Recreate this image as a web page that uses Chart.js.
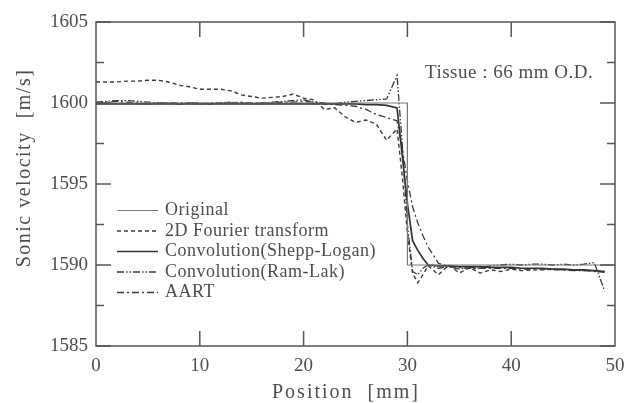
<!DOCTYPE html>
<html>
<head>
<meta charset="utf-8">
<script src="https://cdn.jsdelivr.net/npm/chart.js@4"></script>
<style>
  body { margin: 0; background: #fff; }
</style>
</head>
<body>
<canvas id="sonicChart" width="625" height="403"></canvas>
<script>
const TEXT_COLOR = '#4d4d4d';
const AXIS_COLOR = '#555';
const FONT = '"Liberation Serif", "Times New Roman", serif';

// positions [mm]
const positions = [0, 1, 2, 3, 4, 5, 6, 7, 8, 9, 10, 11, 12, 13, 14, 15, 16, 17, 18, 19,
    20, 21, 22, 23, 24, 25, 26, 27, 28, 29, 29.5, 30, 30.5, 31, 31.5, 32,
    33, 34, 35, 36, 37, 38, 39, 40, 41, 42, 43, 44, 45, 46, 47, 48, 49];

const originalX = [0, 30, 30, 50];
const originalY = [1600, 1600, 1590, 1590];

const fourier = [1601.3, 1601.3, 1601.3, 1601.35, 1601.35, 1601.4, 1601.4, 1601.3, 1601.1, 1601.0,
    1600.85, 1600.85, 1600.85, 1600.75, 1600.5, 1600.4, 1600.3, 1600.35, 1600.4, 1600.55,
    1600.3, 1600.2, 1599.6, 1599.7, 1599.15, 1598.8, 1598.95, 1598.7, 1597.7, 1598.4,
    1595.5, 1592.0, 1589.5, 1588.9, 1589.4, 1589.95,
    1589.4, 1590.0, 1589.5, 1589.85, 1589.5, 1589.7, 1589.6, 1589.75, 1589.65, 1589.7,
    1589.7, 1589.75, 1589.7, 1589.7, 1589.65, 1589.65, 1589.6];

const sheppLogan = [1599.95, 1599.95, 1599.95, 1599.95, 1599.95, 1599.95, 1599.95, 1599.95, 1599.95, 1599.95,
    1599.95, 1599.95, 1599.95, 1599.95, 1599.95, 1599.95, 1599.95, 1599.95, 1599.95, 1599.95,
    1599.95, 1599.95, 1599.95, 1599.95, 1599.95, 1599.95, 1599.9, 1599.9, 1599.85, 1599.7,
    1596.8, 1593.8, 1591.5, 1590.9, 1590.4, 1590.0,
    1589.95, 1589.95, 1589.9, 1589.9, 1589.9, 1589.85, 1589.85, 1589.85, 1589.8, 1589.8,
    1589.8, 1589.75, 1589.75, 1589.7, 1589.7, 1589.65, 1589.6];

const ramLak = [1600.05, 1600.1, 1600.15, 1600.15, 1600.1, 1600.05, 1600.0, 1600.0, 1599.95, 1600.0,
    1600.0, 1599.95, 1600.0, 1600.05, 1600.0, 1599.95, 1600.0, 1600.05, 1600.1, 1600.15,
    1600.2, 1600.05, 1600.0, 1599.95, 1600.05, 1600.1, 1600.15, 1600.2, 1600.25, 1601.7,
    1597.5, 1592.5, 1589.6, 1589.4, 1589.8, 1590.0,
    1589.8, 1589.9, 1589.75, 1589.85, 1589.8, 1589.95, 1590.0, 1590.05, 1590.0, 1590.05,
    1590.05, 1590.0, 1590.05, 1590.0, 1590.05, 1590.15, 1588.4];

const aart = [1600.0, 1600.05, 1600.1, 1600.05, 1600.0, 1599.95, 1600.0, 1600.0, 1600.0, 1600.0,
    1599.95, 1600.0, 1600.0, 1600.0, 1600.05, 1600.0, 1600.0, 1600.0, 1600.05, 1600.05,
    1600.1, 1600.05, 1599.95, 1599.9, 1599.85, 1599.8, 1599.6, 1599.3, 1599.1, 1598.9,
    1597.2, 1595.2, 1593.6, 1592.6, 1591.8, 1591.1,
    1590.1, 1589.9, 1589.85, 1589.8, 1589.8, 1589.8, 1589.8, 1589.8, 1589.75, 1589.75,
    1589.75, 1589.7, 1589.7, 1589.65, 1589.65, 1589.6, 1589.55];

const seriesLabels = ['Original', '2D Fourier transform', 'Convolution(Shepp-Logan)', 'Convolution(Ram-Lak)', 'AART'];

function pairs(xs, ys) {
    return ys.map((v, i) => ({ x: xs[i], y: v }));
}

var dataSonic = {
    datasets: [
        {
            label: seriesLabels[0],
            data: pairs(originalX, originalY),
            borderColor: '#777',
            borderWidth: 1.2,
        },
        {
            label: seriesLabels[1],
            data: pairs(positions, fourier),
            borderColor: '#3a3a3a',
            borderWidth: 1.4,
            borderDash: [4, 3],
        },
        {
            label: seriesLabels[2],
            data: pairs(positions, sheppLogan),
            borderColor: '#333',
            borderWidth: 1.7,
        },
        {
            label: seriesLabels[3],
            data: pairs(positions, ramLak),
            borderColor: '#3a3a3a',
            borderWidth: 1.3,
            borderDash: [7, 2, 1.5, 2, 1.5, 2],
        },
        {
            label: seriesLabels[4],
            data: pairs(positions, aart),
            borderColor: '#3a3a3a',
            borderWidth: 1.3,
            borderDash: [7, 3, 2, 3],
        },
    ]
};

// frame, inward ticks, axis titles, legend and note
const decorations = {
    id: 'decorations',
    afterDraw(chart) {
        const { ctx, chartArea: a, scales: { x, y } } = chart;
        ctx.save();
        ctx.strokeStyle = AXIS_COLOR;
        ctx.lineWidth = 1.5;
        ctx.setLineDash([]);
        ctx.strokeRect(a.left, a.top, a.right - a.left, a.bottom - a.top);

        ctx.beginPath();
        y.ticks.forEach((t, i) => {
            const py = y.getPixelForValue(t.value);
            ctx.moveTo(a.left, py); ctx.lineTo(a.left + 15, py);
            ctx.moveTo(a.right, py); ctx.lineTo(a.right - 15, py);
            if (i < y.ticks.length - 1) {
                const pm = y.getPixelForValue(t.value + 2.5);
                ctx.moveTo(a.left, pm); ctx.lineTo(a.left + 8, pm);
                ctx.moveTo(a.right, pm); ctx.lineTo(a.right - 8, pm);
            }
        });
        x.ticks.forEach((t, i) => {
            if (i === 0 || i === x.ticks.length - 1) return;
            const px = x.getPixelForValue(t.value);
            ctx.moveTo(px, a.bottom); ctx.lineTo(px, a.bottom - 15);
            ctx.moveTo(px, a.top); ctx.lineTo(px, a.top + 15);
        });
        ctx.stroke();

        // axis titles
        ctx.fillStyle = TEXT_COLOR;
        ctx.font = '20px ' + FONT;
        ctx.textAlign = 'center';
        ctx.textBaseline = 'middle';
        ctx.letterSpacing = '2px';
        ctx.fillText('Position  [mm]', 346, 393);
        ctx.save();
        ctx.translate(25, 168);
        ctx.rotate(-Math.PI / 2);
        ctx.letterSpacing = '1.5px';
        ctx.fillText('Sonic velocity  [m/s]', 0, 0);
        ctx.restore();

        // note
        ctx.letterSpacing = '0.5px';
        ctx.font = '19px ' + FONT;
        ctx.textAlign = 'left';
        ctx.fillText('Tissue : 66 mm O.D.', 425, 73);

        // legend
        ctx.font = '18px ' + FONT;
        chart.data.datasets.forEach((ds, i) => {
            const ly = 210.5 + 20.5 * i;
            ctx.strokeStyle = ds.borderColor;
            ctx.lineWidth = ds.borderWidth;
            ctx.setLineDash(ds.borderDash || []);
            ctx.beginPath();
            ctx.moveTo(117, ly);
            ctx.lineTo(158, ly);
            ctx.stroke();
            ctx.fillText(ds.label, 165, ly);
        });
        ctx.restore();
    }
};

var configSonic = {
    type: 'scatter',
    data: dataSonic,
    options: {
        responsive: false,
        animation: false,
        showLine: true,
        elements: {
            point: { radius: 0, hoverRadius: 0 },
            line: { tension: 0, fill: false },
        },
        layout: {
            padding: { top: 22, right: 10, left: 0, bottom: 0 }
        },
        plugins: {
            legend: { display: false },
            tooltip: { enabled: false },
        },
        scales: {
            x: {
                type: 'linear',
                min: 0,
                max: 50,
                ticks: {
                    stepSize: 10,
                    padding: 9,
                    color: TEXT_COLOR,
                    font: { family: FONT, size: 19 },
                },
                grid: { display: false, drawTicks: false },
                border: { display: false },
                afterFit: (scale) => {
                    scale.height = 57;
                    scale.paddingLeft = 0;
                    scale.paddingRight = 0;
                },
            },
            y: {
                min: 1585,
                max: 1605,
                ticks: {
                    stepSize: 5,
                    padding: 8,
                    color: TEXT_COLOR,
                    font: { family: FONT, size: 19 },
                    callback: (v) => String(v),
                },
                grid: { display: false, drawTicks: false },
                border: { display: false },
                afterFit: (scale) => {
                    scale.width = 96;
                    scale.paddingTop = 0;
                    scale.paddingBottom = 0;
                },
            }
        }
    },
    plugins: [decorations],
};

new Chart(
    document.getElementById('sonicChart'),
    configSonic,
);
</script>
</body>
</html>
